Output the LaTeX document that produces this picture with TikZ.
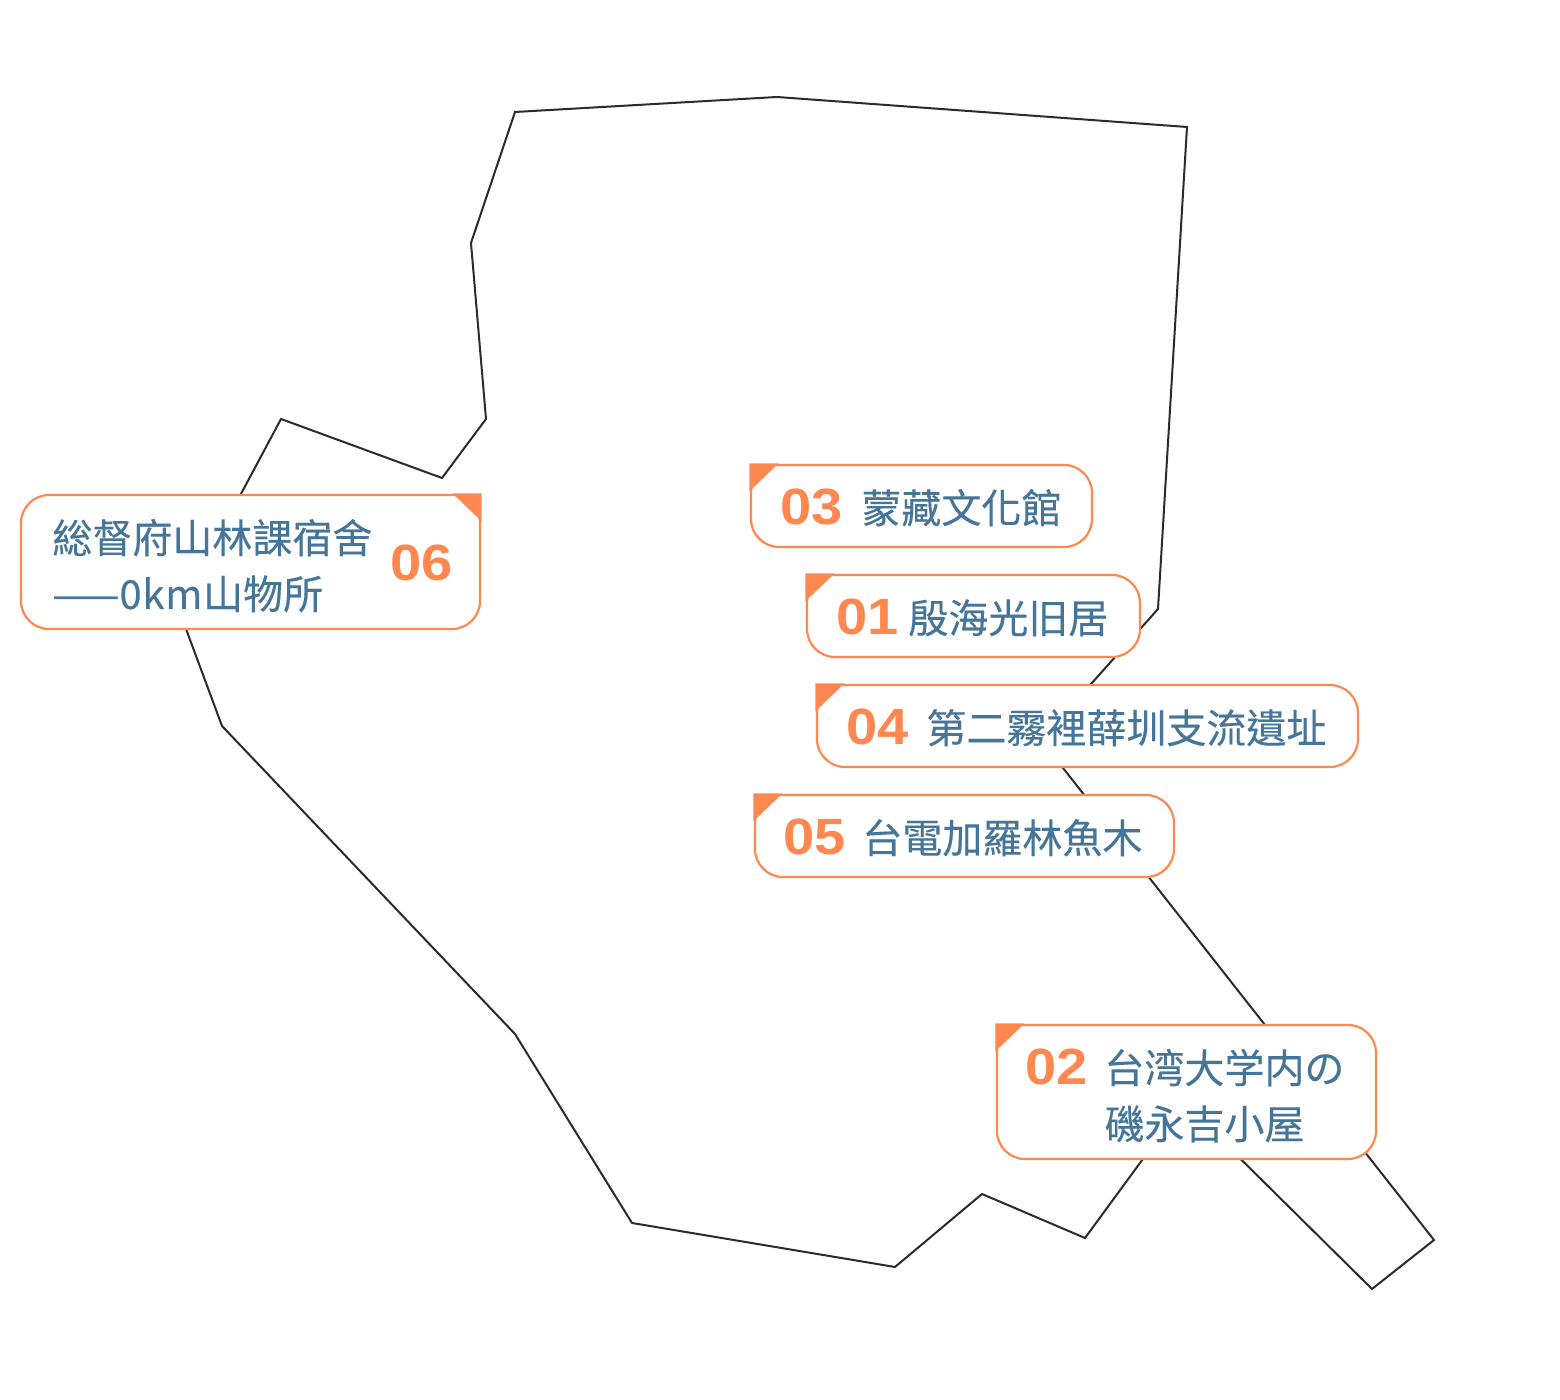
\documentclass[tikz,border=0pt]{standalone}
\usepackage{fontspec}
\setmainfont{Noto Sans CJK TC}
\newfontfamily\namefont[FakeBold=0.3]{Noto Sans CJK TC}
\newfontfamily\numfont[FakeStretch=1.1]{Liberation Sans Bold}
\definecolor{accent}{HTML}{FF8850}
\definecolor{labelblue}{HTML}{457599}
\definecolor{outlinegrey}{HTML}{2B2B2B}
\tikzset{
  labelbox/.style={draw=accent,line width=1.1pt,fill=white,rounded corners=14pt,inner sep=0pt,minimum height=41pt},
  tallbox/.style={labelbox,minimum height=67pt},
  numtext/.style={anchor=base west,inner sep=0pt,text=accent,font=\numfont\fontsize{25.5}{26}\selectfont},
  nametext/.style={anchor=base west,inner sep=0pt,text=labelblue,align=left,font=\namefont\fontsize{20}{28}\selectfont},
  tab/.style={fill=accent,draw=none}
}
\begin{document}
\begin{tikzpicture}[x=0.5pt,y=-0.5pt]
\useasboundingbox (0,0) rectangle (1560,1400);
\fill[white] (0,0) rectangle (1560,1400);
\draw[outlinegrey,line width=1pt,line join=miter]
  (515,112) -- (777,97) -- (1187,127) -- (1158,609) -- (1041,740) -- (1434,1240)
  -- (1372,1289) -- (1184,1103) -- (1085,1238) -- (982,1194) -- (895,1267)
  -- (632,1223) -- (515,1034) -- (222,726) -- (179,610) -- (281,419) -- (442,478)
  -- (486,419) -- (471,243) -- cycle;

\node[labelbox,minimum width=170.5pt] (b3) at (921.5,506) {};
\fill[tab] (b3.north west) ++(-0.5,-0.5) -- ++(29,0) -- ++(-29,28) -- cycle;
\node[numtext] (n3) at (780,525) {03};
\node[nametext] (t3) at (861,523) {蒙藏文化館};

\node[labelbox,minimum width=166.5pt] (b1) at (973.5,616) {};
\fill[tab] (b1.north west) ++(-0.5,-0.5) -- ++(29,0) -- ++(-29,28) -- cycle;
\node[numtext] (n1) at (836,635) {01};
\node[nametext] (t1) at (908,633) {殷海光旧居};

\node[labelbox,minimum width=270.5pt] (b4) at (1087.5,726) {};
\fill[tab] (b4.north west) ++(-0.5,-0.5) -- ++(29,0) -- ++(-29,28) -- cycle;
\node[numtext] (n4) at (846,745) {04};
\node[nametext] (t4) at (926,743) {第二霧裡薛圳支流遺址};

\node[labelbox,minimum width=209.5pt] (b5) at (964.5,836) {};
\fill[tab] (b5.north west) ++(-0.5,-0.5) -- ++(29,0) -- ++(-29,28) -- cycle;
\node[numtext] (n5) at (783,855) {05};
\node[nametext] (t5) at (862,853) {台電加羅林魚木};

\node[tallbox,minimum width=189.5pt] (b2) at (1186.5,1092) {};
\fill[tab] (b2.north west) ++(-0.5,-0.5) -- ++(29,0) -- ++(-29,28) -- cycle;
\node[numtext] (n2) at (1025,1085) {02};
\node[nametext] (t2) at (1104,1139) {台湾大学内の\\磯永吉小屋};

\node[tallbox,minimum width=229.5pt] (b6) at (250.5,562) {};
\fill[tab] (b6.north east) ++(0.5,-0.5) -- ++(-29,0) -- ++(29,28) -- cycle;
\node[numtext] (n6) at (390,581) {06};
\node[nametext] (t6) at (52,609) {総督府山林課宿舍\\——0\kern.4pt k\kern.4pt m\kern.4pt 山物所};
\end{tikzpicture}
\end{document}
